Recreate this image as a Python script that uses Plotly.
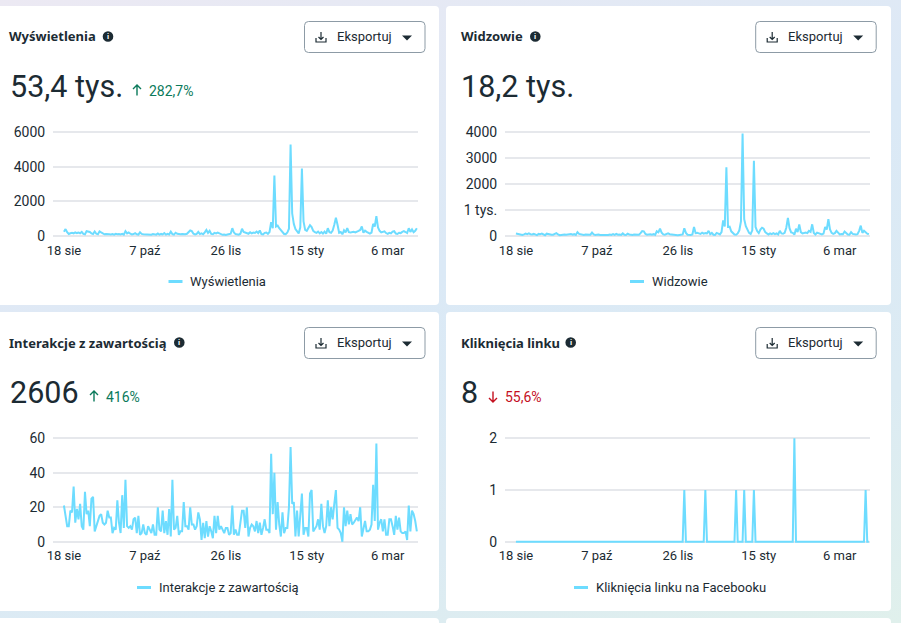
import pandas as pd
import plotly.graph_objects as go

W, H = 901, 623
FONT = "Roboto"
TITLE_FONT = "Noto Sans"
INK = "#1c2b33"
LINE = "#6ddcff"
GRID = "#e6e8ec"

start_day = "2024-08-18"
tick_days = ["2024-08-18", "2024-10-07", "2024-11-26", "2025-01-15", "2025-03-06"]
tick_labels = ["18 sie", "7 paź", "26 lis", "15 sty", "6 mar"]

views = [
    250, 400, 220, 120, 160, 190, 150, 210, 170, 200,
    160, 240, 120, 100, 280, 270, 230, 150, 110, 260,
    130, 100, 270, 210, 130, 100, 110, 120, 100, 90,
    110, 80, 130, 100, 120, 90, 130, 80, 280, 150,
    200, 130, 90, 110, 160, 100, 80, 210, 120, 100,
    90, 120, 80, 100, 70, 110, 90, 80, 150, 80,
    120, 90, 170, 80, 130, 90, 250, 110, 80, 190,
    130, 110, 100, 120, 90, 100, 130, 220, 320, 280,
    130, 90, 120, 240, 110, 150, 100, 210, 350, 180,
    300, 120, 100, 180, 150, 200, 170, 100, 70, 90,
    60, 90, 110, 130, 450, 200, 110, 100, 80, 130,
    420, 240, 200, 180, 130, 220, 150, 200, 180, 260,
    170, 320, 110, 90, 180, 200, 120, 230, 800, 450,
    3500, 550, 600, 450, 350, 250, 120, 110, 200, 420,
    5300, 1300, 700, 400, 300, 150, 500, 3900, 850, 350,
    300, 450, 620, 520, 300, 220, 180, 250, 150, 230,
    140, 250, 130, 450, 220, 190, 320, 650, 1050, 650,
    190, 230, 100, 330, 210, 450, 220, 200, 230, 240,
    210, 280, 300, 350, 550, 190, 310, 240, 170, 140,
    200, 700, 550, 1150, 500, 300, 210, 230, 270, 170,
    120, 180, 150, 250, 280, 140, 120, 190, 170, 240,
    280, 230, 170, 450, 240, 380, 220, 300, 450,
]

viewers = [
    100, 90, 70, 50, 40, 60, 90, 70, 100, 70,
    60, 80, 40, 30, 80, 70, 90, 60, 30, 90,
    70, 60, 50, 50, 70, 110, 60, 30, 40, 60,
    60, 50, 70, 60, 80, 50, 70, 40, 150, 80,
    60, 50, 40, 60, 50, 60, 50, 130, 60, 40,
    50, 60, 40, 40, 30, 50, 40, 40, 60, 40,
    70, 40, 80, 50, 60, 40, 100, 50, 40, 90,
    60, 50, 40, 60, 50, 40, 50, 110, 190, 180,
    80, 50, 60, 70, 50, 70, 40, 180, 140, 280,
    130, 60, 50, 70, 100, 70, 60, 50, 30, 40,
    30, 40, 50, 60, 300, 120, 50, 40, 40, 60,
    350, 110, 120, 100, 80, 130, 90, 110, 100, 200,
    70, 120, 50, 40, 120, 90, 60, 150, 600, 370,
    2650, 350, 360, 180, 100, 60, 50, 100, 220, 560,
    3950, 650, 380, 220, 120, 80, 220, 2900, 350, 190,
    110, 250, 320, 280, 150, 100, 60, 100, 70, 110,
    70, 100, 60, 200, 100, 90, 120, 320, 700, 300,
    140, 120, 50, 280, 150, 450, 150, 100, 120, 130,
    110, 200, 160, 450, 120, 60, 130, 110, 80, 60,
    90, 350, 250, 650, 250, 120, 80, 110, 200, 110,
    60, 80, 70, 170, 120, 60, 50, 150, 80, 60,
    60, 70, 200, 400, 120, 200, 130, 90, 70,
]

interactions = [
    21, 15, 9, 9, 18, 17, 32, 11, 19, 13,
    22, 9, 7, 29, 16, 18, 9, 25, 26, 6,
    9, 12, 15, 16, 11, 10, 11, 18, 14, 14,
    5, 8, 7, 24, 11, 5, 27, 8, 36, 9,
    8, 9, 7, 13, 14, 5, 15, 4, 5, 10,
    5, 4, 9, 7, 5, 10, 4, 4, 20, 7,
    6, 18, 5, 12, 4, 19, 3, 36, 7, 8,
    15, 4, 6, 6, 23, 9, 9, 7, 20, 10,
    10, 7, 9, 17, 13, 1, 11, 2, 12, 3,
    9, 6, 2, 15, 5, 15, 7, 9, 7, 5,
    8, 8, 4, 5, 21, 4, 7, 4, 4, 10,
    18, 18, 8, 20, 3, 8, 10, 9, 6, 12,
    5, 11, 4, 8, 13, 7, 7, 5, 51, 16,
    40, 7, 23, 10, 3, 17, 5, 8, 8, 20,
    55, 22, 23, 3, 18, 3, 15, 28, 4, 8,
    8, 3, 28, 30, 6, 8, 9, 13, 7, 22,
    9, 5, 9, 24, 9, 20, 13, 22, 30, 8,
    7, 5, 0, 20, 9, 18, 10, 16, 10, 11,
    13, 14, 12, 20, 3, 7, 12, 6, 6, 7,
    10, 33, 12, 57, 7, 11, 13, 6, 13, 4,
    4, 13, 13, 9, 4, 15, 7, 14, 6, 5,
    5, 6, 1, 21, 6, 18, 16, 12, 6,
]

link_clicks = [
    0, 0, 0, 0, 0, 0, 0, 0, 0, 0,
    0, 0, 0, 0, 0, 0, 0, 0, 0, 0,
    0, 0, 0, 0, 0, 0, 0, 0, 0, 0,
    0, 0, 0, 0, 0, 0, 0, 0, 0, 0,
    0, 0, 0, 0, 0, 0, 0, 0, 0, 0,
    0, 0, 0, 0, 0, 0, 0, 0, 0, 0,
    0, 0, 0, 0, 0, 0, 0, 0, 0, 0,
    0, 0, 0, 0, 0, 0, 0, 0, 0, 0,
    0, 0, 0, 0, 0, 0, 0, 0, 0, 0,
    0, 0, 0, 0, 0, 0, 0, 0, 0, 0,
    0, 0, 0, 0, 1, 0, 0, 0, 0, 0,
    0, 0, 0, 0, 0, 0, 0, 1, 0, 0,
    0, 0, 0, 0, 0, 0, 0, 0, 0, 0,
    0, 0, 0, 0, 0, 0, 1, 0, 0, 0,
    0, 1, 0, 0, 0, 0, 0, 1, 0, 0,
    0, 0, 0, 0, 0, 0, 0, 0, 0, 0,
    0, 0, 0, 0, 0, 0, 0, 0, 0, 0,
    0, 0, 2, 0, 0, 0, 0, 0, 0, 0,
    0, 0, 0, 0, 0, 0, 0, 0, 0, 0,
    0, 0, 0, 0, 0, 0, 0, 0, 0, 0,
    0, 0, 0, 0, 0, 0, 0, 0, 0, 0,
    0, 0, 0, 0, 0, 0, 1, 0, 0,
]

# one entry per card, layout numbers are pixels of the 901x623 page
panels = [
    dict(title="Wyświetlenia", name="Wyświetlenia", total="53,4 tys.", delta="282,7%", arrow="up",
         color="#0b7a5b", values=views, ticks=[0, 2000, 4000, 6000], labels=["0", "2000", "4000", "6000"],
         card=(-6, 6, 439, 305), plot=(53, 418, 132.3, 236), info=108, button=304.5, big=9.5,
         arrow_x=137, delta_x=149, swatch=168.5, legend_x=190, legend_y=281.5),
    dict(title="Widzowie", name="Widzowie", total="18,2 tys.", delta="", arrow="",
         color="#0b7a5b", values=viewers, ticks=[0, 1000, 2000, 3000, 4000], labels=["0", "1 tys.", "2000", "3000", "4000"],
         card=(446, 6, 891, 305), plot=(505, 870, 132.3, 236), info=535.3, button=755.7, big=461,
         arrow_x=0, delta_x=0, swatch=630, legend_x=652, legend_y=281.5),
    dict(title="Interakcje z zawartością", name="Interakcje z zawartością", total="2606", delta="416%", arrow="up",
         color="#0b7a5b", values=interactions, ticks=[0, 20, 40, 60], labels=["0", "20", "40", "60"],
         card=(-6, 312, 439, 611), plot=(53, 418, 438.3, 541.7), info=179.3, button=304.5, big=9.5,
         arrow_x=94, delta_x=105.5, swatch=137, legend_x=159, legend_y=587.5),
    dict(title="Kliknięcia linku", name="Kliknięcia linku na Facebooku", total="8", delta="55,6%", arrow="down",
         color="#c4101f", values=link_clicks, ticks=[0, 1, 2], labels=["0", "1", "2"],
         card=(446, 312, 891, 611), plot=(505, 870, 438.3, 541.7), info=570.7, button=755.7, big=461,
         arrow_x=493, delta_x=504.5, swatch=574, legend_x=596, legend_y=587.5),
]

# the plot box is a bit taller than the axis so lines at 0 and at the top tick are not clipped
CLIP_PAD = 3


def px(x):
    return x / W


def py(y):
    return 1 - y / H


def rounded_rect(x0, y0, x1, y1, r):
    return (f"M{px(x0 + r)},{py(y0)} L{px(x1 - r)},{py(y0)} Q{px(x1)},{py(y0)} {px(x1)},{py(y0 + r)} "
            f"L{px(x1)},{py(y1 - r)} Q{px(x1)},{py(y1)} {px(x1 - r)},{py(y1)} "
            f"L{px(x0 + r)},{py(y1)} Q{px(x0)},{py(y1)} {px(x0)},{py(y1 - r)} "
            f"L{px(x0)},{py(y0 + r)} Q{px(x0)},{py(y0)} {px(x0 + r)},{py(y0)} Z")


def path_shape(d, **kw):
    return dict(type="path", xref="paper", yref="paper", path=d, layer="below", **kw)


def label(x, y, text, size=13, color=INK, anchor="left", bold=False, family=FONT):
    if bold:
        text = f"<b>{text}</b>"
    return dict(xref="paper", yref="paper", x=px(x), y=py(y), text=text, showarrow=False,
                xanchor=anchor, yanchor="middle", borderpad=0, borderwidth=0,
                font=dict(family=family, size=size, color=color))


fig = go.Figure()
shapes = []
annotations = []

# top edge of the next row of cards, cut by the window
for x0, x1 in [(-6, 439), (446, 891)]:
    shapes.append(path_shape(rounded_rect(x0, 618, x1, 640, 4), fillcolor="white", line=dict(width=0)))

for i, p in enumerate(panels):
    suffix = "" if i == 0 else str(i + 1)
    x0, x1, y0, y1 = p["plot"]
    days = pd.date_range(start_day, periods=len(p["values"]))
    y_top = p["ticks"][-1]
    y_pad = CLIP_PAD * y_top / (y1 - y0)

    fig.add_trace(go.Scatter(
        x=days, y=p["values"], mode="lines", name=p["name"], showlegend=False,
        line=dict(color=LINE, width=2), cliponaxis=False,
        xaxis="x" + suffix, yaxis="y" + suffix,
    ))

    fig.layout["xaxis" + suffix] = dict(
        domain=[px(x0), px(x1)], anchor="y" + suffix, range=["2024-08-11 06:00", "2025-03-24 17:00"],
        position=py(y1), tickmode="array", tickvals=tick_days, ticktext=tick_labels, showgrid=False, showline=False,
        zeroline=False, ticks="outside", ticklen=2, tickcolor="rgba(0,0,0,0)",
        tickfont=dict(family=FONT, size=13, color=INK),
    )
    fig.layout["xaxis" + suffix].pop("anchor")
    fig.layout["xaxis" + suffix].anchor = "free"
    fig.layout["yaxis" + suffix] = dict(
        domain=[py(y1 + CLIP_PAD), py(y0 - CLIP_PAD)], anchor="x" + suffix, range=[-y_pad, y_top + y_pad],
        tickmode="array", tickvals=p["ticks"], ticktext=p["labels"], showgrid=True, gridcolor=GRID, gridwidth=1.5,
        zeroline=True, zerolinecolor=GRID, zerolinewidth=2, showline=False,
        ticks="outside", ticklen=4, tickcolor="rgba(0,0,0,0)",
        tickfont=dict(family=FONT, size=14, color=INK),
    )

    cx0, cy0, cx1, cy1 = p["card"]
    shapes.insert(0, path_shape(rounded_rect(cx0, cy0, cx1, cy1, 4), fillcolor="white", line=dict(width=0)))

    title_x = 9 if cx0 < 0 else cx0 + 15
    title_y = cy0 + 30.5
    annotations.append(label(title_x, title_y, p["title"], size=13, bold=True, family=TITLE_FONT))

    # info badge
    shapes.append(dict(type="circle", xref="paper", yref="paper", layer="below",
                       x0=px(p["info"] - 5.3), x1=px(p["info"] + 5.3),
                       y0=py(title_y + 5.3), y1=py(title_y - 5.3), fillcolor=INK, line=dict(width=0)))
    annotations.append(label(p["info"], title_y, "<b>i</b>", size=8, color="white", anchor="center"))

    # export button
    bx = p["button"]
    by = cy0 + 15.5
    shapes.append(path_shape(rounded_rect(bx, by, bx + 120.5, by + 31, 4), fillcolor="white",
                             line=dict(color="#8d9ba6", width=1)))
    annotations.append(label(bx + 60, by + 14.5, "Eksportuj", size=13, anchor="center"))
    ix = bx + 16.5
    iy = by + 15.5
    shapes.append(path_shape(
        f"M{px(ix - 5)},{py(iy + 1)} L{px(ix - 5)},{py(iy + 5)} L{px(ix + 5)},{py(iy + 5)} L{px(ix + 5)},{py(iy + 1)} "
        f"M{px(ix)},{py(iy - 5)} L{px(ix)},{py(iy + 2)} M{px(ix - 2.5)},{py(iy)} L{px(ix)},{py(iy + 2.5)} L{px(ix + 2.5)},{py(iy)}",
        line=dict(color=INK, width=1.2)))
    tx = bx + 102.5
    ty = by + 14
    shapes.append(path_shape(f"M{px(tx - 5)},{py(ty)} L{px(tx + 5)},{py(ty)} L{px(tx)},{py(ty + 5)} Z",
                             fillcolor=INK, line=dict(width=0)))

    # headline number and change
    annotations.append(label(p["big"], cy0 + 80.5, p["total"], size=30.5))
    if p["delta"]:
        ax = p["arrow_x"]
        ay = cy0 + 84.5
        tip = -1 if p["arrow"] == "up" else 1
        shapes.append(path_shape(
            f"M{px(ax)},{py(ay - 5 * tip)} L{px(ax)},{py(ay + 5.5 * tip)} "
            f"M{px(ax - 4)},{py(ay + 1.5 * tip)} L{px(ax)},{py(ay + 5.5 * tip)} L{px(ax + 4)},{py(ay + 1.5 * tip)}",
            line=dict(color=p["color"], width=1.4)))
        annotations.append(label(p["delta_x"], cy0 + 85, p["delta"], size=14, color=p["color"]))

    # legend, a short thick dash and the series name
    shapes.append(dict(type="line", xref="paper", yref="paper", layer="below",
                       x0=px(p["swatch"]), x1=px(p["swatch"] + 14), y0=py(p["legend_y"]), y1=py(p["legend_y"]),
                       line=dict(color=LINE, width=3)))
    annotations.append(label(p["legend_x"], p["legend_y"], p["name"], size=13))

fig.update_layout(
    width=W, height=H, margin=dict(l=0, r=0, t=0, b=0, pad=0, autoexpand=False), autosize=False,
    paper_bgcolor="rgba(0,0,0,0)", plot_bgcolor="rgba(0,0,0,0)",
    showlegend=False, shapes=shapes, annotations=annotations,
)

page_style = ("document.documentElement.style.overflow='hidden';document.body.style.margin='0';"
              "document.body.style.overflow='hidden';"
              "document.body.style.background='linear-gradient(160deg,#ece9f3 0%,#dbe9f6 45%,#dcebf3 75%,#e0f0ec 100%)';")
fig.write_html("out.html", post_script=page_style, config=dict(displayModeBar=False))
